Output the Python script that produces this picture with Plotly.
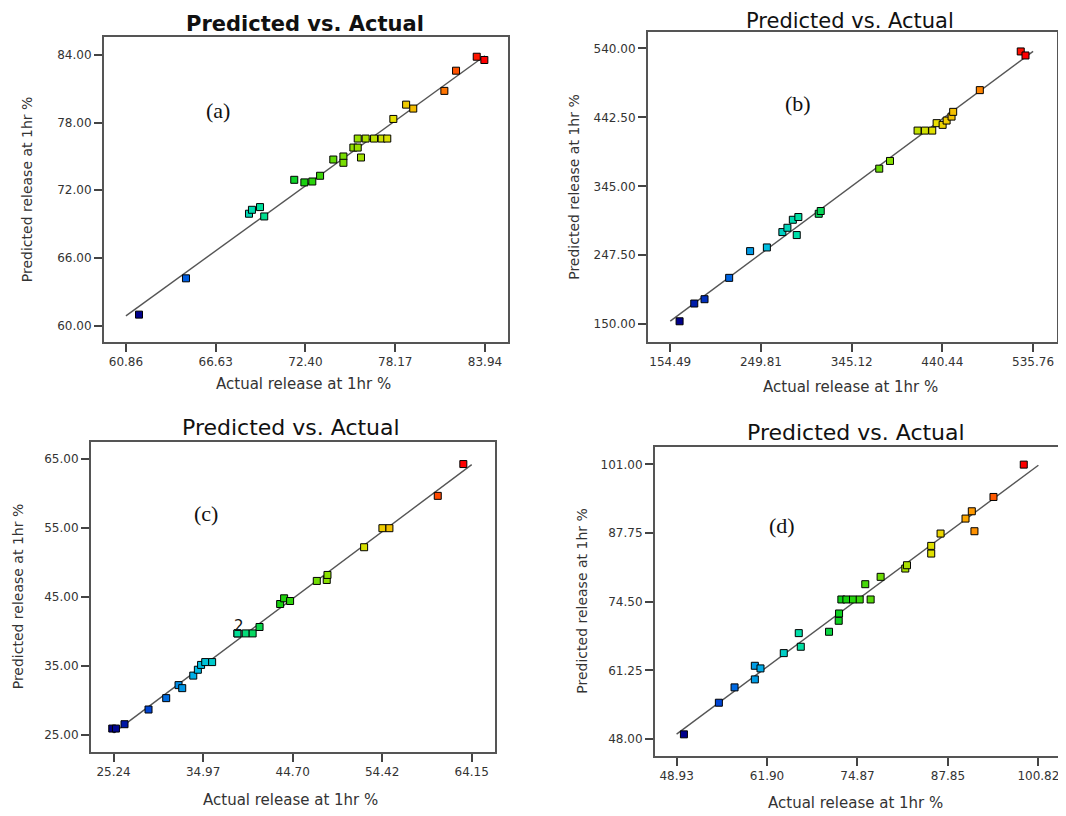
import plotly.graph_objects as go

# ---------------- data ----------------
a_actual = [61.70, 64.72, 68.77, 68.96, 69.48, 69.75, 71.68, 72.33, 72.84, 73.34, 74.19, 74.84, 74.84,
            75.48, 75.76, 75.97, 75.76, 76.27, 76.81, 77.30, 77.66, 78.05, 78.87, 79.33, 81.33, 82.08,
            83.41, 83.90]
a_pred = [60.97, 64.19, 69.92, 70.27, 70.51, 69.68, 72.93, 72.70, 72.78, 73.29, 74.73, 75.00, 74.44,
          75.79, 75.79, 74.91, 76.59, 76.59, 76.59, 76.59, 76.59, 78.33, 79.60, 79.25, 80.82, 82.61,
          83.85, 83.56]

b_actual = [164.3, 179.7, 190.5, 216.4, 238.4, 256.0, 272.3, 277.6, 283.3, 289.1, 287.4, 310.5, 312.6,
            374.1, 385.4, 414.4, 422.1, 429.8, 434.4, 440.7, 444.9, 450.1, 451.8, 479.8, 522.8, 527.8]
b_pred = [154.2, 179.3, 185.4, 215.6, 253.4, 258.6, 280.3, 286.4, 297.7, 301.6, 276.1, 306.2, 310.1,
          370.0, 380.9, 423.8, 423.8, 423.8, 434.3, 431.9, 438.0, 443.6, 450.3, 481.0, 535.7, 530.0]

c_actual = [25.10, 25.50, 26.43, 29.04, 30.96, 32.30, 32.70, 33.90, 34.40, 34.75, 35.20, 35.95,
            38.70, 38.70, 39.60, 40.35, 41.10, 43.34, 43.77, 44.42, 47.32, 48.40, 48.48, 52.46,
            54.45, 55.21, 60.46, 63.24]
c_pred = [25.87, 25.87, 26.50, 28.63, 30.28, 32.17, 31.73, 33.55, 34.40, 35.10, 35.51, 35.51,
          39.67, 39.67, 39.67, 39.67, 40.60, 43.93, 44.76, 44.37, 47.28, 47.42, 48.15, 52.17,
          54.93, 54.93, 59.62, 64.23]

d_actual = [49.98, 54.99, 57.24, 60.15, 60.15, 60.96, 64.30, 66.74, 66.45, 70.79, 72.18, 72.23,
            72.56, 73.28, 74.23, 75.19, 76.76, 75.99, 78.19, 81.73, 81.97, 85.45, 85.45, 86.79,
            90.37, 91.27, 91.65, 94.38, 98.72]
d_pred = [48.90, 55.00, 57.96, 59.50, 62.13, 61.62, 64.57, 65.80, 68.43, 68.69, 70.81, 72.22,
          74.92, 74.92, 74.92, 74.92, 74.92, 77.87, 79.29, 80.89, 81.53, 83.78, 85.26, 87.64,
          90.53, 91.94, 88.09, 94.70, 100.94]

a_xticks = [60.86, 66.63, 72.40, 78.17, 83.94]
a_yticks = [60.00, 66.00, 72.00, 78.00, 84.00]
b_xticks = [154.49, 249.81, 345.12, 440.44, 535.76]
b_yticks = [150.00, 247.50, 345.00, 442.50, 540.00]
c_xticks = [25.24, 34.97, 44.70, 54.42, 64.15]
c_yticks = [25.00, 35.00, 45.00, 55.00, 65.00]
d_xticks = [48.93, 61.90, 74.87, 87.85, 100.82]
d_yticks = [48.00, 61.25, 74.50, 87.75, 101.00]

panel_labels = ["(a)", "(b)", "(c)", "(d)"]
title_text = "Predicted vs. Actual"
x_title = "Actual release at 1hr %"
y_title = "Predicted release at 1hr %"

# ---------------- layout helpers ----------------
W, H = 1066, 816
OFF = 8  # page body margin


def px(x):
    return (x - OFF) / W


def py(y):
    return 1 - (y - OFF) / H


colorscale = [
    [0.00, "#00008b"], [0.12, "#0050e0"], [0.24, "#00b8e8"], [0.34, "#00e0a8"],
    [0.47, "#10d010"], [0.62, "#90e000"], [0.74, "#e8e000"], [0.84, "#ffa000"],
    [0.92, "#ff5000"], [1.00, "#ff0000"],
]

panels = [
    dict(act=a_actual, pred=a_pred, xt=a_xticks, yt=a_yticks,
         box=(104, 508, 37, 342), xr=[59.45, 85.42], yr=[58.54, 85.60]),
    dict(act=b_actual, pred=b_pred, xt=b_xticks, yt=b_yticks,
         box=(648, 1057, 32, 342), xr=[131.1, 560.9], yr=[124.9, 563.2]),
    dict(act=c_actual, pred=c_pred, xt=c_xticks, yt=c_yticks,
         box=(91, 495, 442, 752), xr=[22.79, 66.68], yr=[22.47, 67.43]),
    dict(act=d_actual, pred=d_pred, xt=d_xticks, yt=d_yticks,
         box=(655, 1060, 447, 756), xr=[45.83, 103.92], yr=[44.72, 104.34]),
]

fig = go.Figure()
layout = dict(width=W, height=H, margin=dict(l=0, r=0, t=0, b=0),
              paper_bgcolor="white", plot_bgcolor="white", showlegend=False)

tick_font = dict(family="DejaVu Sans", size=12, color="#333333")

for i, p in enumerate(panels):
    n = "" if i == 0 else str(i + 1)
    xa, ya = "x" + n, "y" + n
    l, r, t, b = p["box"]
    axis_common = dict(showline=True, linecolor="#555555", linewidth=2, mirror=True,
                       ticks="outside", ticklen=8, tickwidth=1.5, tickcolor="#444444",
                       showgrid=False, zeroline=False, tickfont=tick_font)
    layout["xaxis" + n] = dict(domain=[px(l), px(r)], range=p["xr"], anchor=ya,
                               tickvals=p["xt"], ticktext=[f"{v:.2f}" for v in p["xt"]],
                               **axis_common)
    layout["yaxis" + n] = dict(domain=[py(b), py(t)], range=p["yr"], anchor=xa,
                               tickvals=p["yt"], ticktext=[f"{v:.2f}" for v in p["yt"]],
                               **axis_common)
    # fit line y = x across the tick range
    lo, hi = p["xt"][0], p["xt"][-1]
    fig.add_trace(go.Scatter(x=[lo, hi], y=[lo, hi], mode="lines", xaxis=xa, yaxis=ya,
                             line=dict(color="#555555", width=1.4), hoverinfo="skip"))
    fig.add_trace(go.Scatter(x=p["act"], y=p["pred"], mode="markers", xaxis=xa, yaxis=ya,
                             marker=dict(symbol="square", size=7, color=p["act"],
                                         colorscale=colorscale,
                                         cmin=min(p["act"]), cmax=max(p["act"]),
                                         line=dict(color="black", width=1))))

fig.update_layout(**layout)

ann = []
# titles
title_pos = [(304.7, 24, True, 21), (849.5, 21, False, 21), (290.5, 428, False, 22), (855.5, 432.5, False, 22)]
for (x, y, bold, size) in title_pos:
    ann.append(dict(x=px(x), y=py(y), xref="paper", yref="paper", showarrow=False,
                    text=("<b>%s</b>" % title_text) if bold else title_text,
                    font=dict(family="DejaVu Sans", size=size, color="#111111"),
                    xanchor="center", yanchor="middle"))
# panel letters
letter_pos = [(218.3, 110), (798.3, 103.3), (205.7, 513.3), (781.7, 525.7)]
for (x, y), s in zip(letter_pos, panel_labels):
    ann.append(dict(x=px(x), y=py(y), xref="paper", yref="paper", showarrow=False, text=s,
                    font=dict(family="Liberation Serif", size=22, color="#111111"),
                    xanchor="center", yanchor="middle"))
# x titles
xt_pos = [(303.3, 384), (850, 387), (290.8, 800), (855.8, 803)]
for (x, y) in xt_pos:
    ann.append(dict(x=px(x), y=py(y), xref="paper", yref="paper", showarrow=False, text=x_title,
                    font=dict(family="DejaVu Sans", size=15, color="#333333"),
                    xanchor="center", yanchor="middle"))
# y titles
yt_pos = [(26.7, 189.5), (573.3, 187.5), (18.3, 597), (581.7, 601)]
for (x, y) in yt_pos:
    ann.append(dict(x=px(x), y=py(y), xref="paper", yref="paper", showarrow=False, text=y_title,
                    textangle=-90,
                    font=dict(family="DejaVu Sans", size=14, color="#333333"),
                    xanchor="center", yanchor="middle"))
# replicate count marker in panel (c)
ann.append(dict(x=38.9, y=40.8, xref="x3", yref="y3", showarrow=False, text="2",
                font=dict(family="DejaVu Sans", size=15, color="#111111"),
                xanchor="center", yanchor="middle"))

fig.update_layout(annotations=ann)
fig.write_html("out.html")
